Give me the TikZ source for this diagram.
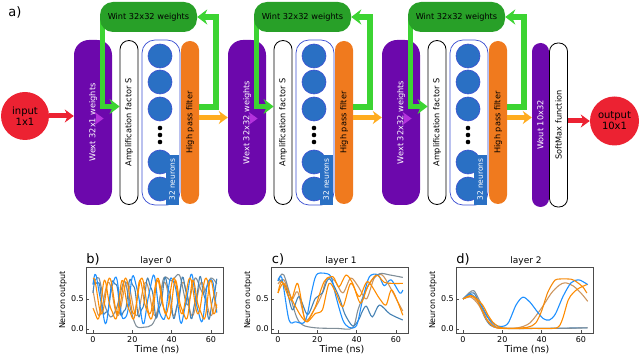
\documentclass[tikz,border=0pt]{standalone}
\usepackage{fontspec}
\setmainfont{DejaVu Sans}
\usetikzlibrary{arrows.meta}
\pgfdeclarelayer{front}
\pgfsetlayers{main,front}
\definecolor{wextc}{RGB}{108,8,172}
\definecolor{wintc}{RGB}{40,160,40}
\definecolor{fbc}{RGB}{60,212,50}
\definecolor{hpfc}{RGB}{240,122,30}
\definecolor{neuc}{RGB}{42,112,196}
\definecolor{ringc}{RGB}{60,80,210}
\definecolor{inc}{RGB}{236,34,50}
\definecolor{orac}{RGB}{255,172,30}
\definecolor{purc}{RGB}{180,50,220}
\definecolor{cblue}{RGB}{30,144,255}
\definecolor{csteel}{RGB}{70,130,180}
\definecolor{cgray}{RGB}{128,142,152}
\definecolor{corange}{RGB}{255,140,0}
\definecolor{ctan}{RGB}{205,150,95}
\tikzset{col/.style={inner sep=0pt,font=\fontsize{8.2}{9.6}\selectfont},
         wext/.style={col,fill=wextc,text=white,minimum width=38pt,minimum height=165pt,rounded corners=15pt},
         amp/.style={col,draw=black,line width=.8pt,fill=white,minimum width=18pt,minimum height=164pt,rounded corners=9pt},
         neur/.style={col,draw=ringc,line width=.7pt,fill=white,minimum width=38pt,minimum height=165pt,rounded corners=13pt},
         hpf/.style={col,fill=hpfc,minimum width=18pt,minimum height=163pt,rounded corners=9pt},
         wint/.style={col,fill=wintc,minimum width=97pt,minimum height=30pt,rounded corners=13pt},
         nlab/.style={col,fill=neuc,text=white,minimum width=13pt,minimum height=50pt,font=\fontsize{7.5}{9}\selectfont},
         neu/.style={fill=neuc,draw=ringc,line width=.6pt},
         io/.style={circle,fill=inc,inner sep=0pt,align=center,font=\fontsize{10}{11}\selectfont},
         fb/.style={draw=fbc,line width=5.5pt,-{Stealth[length=10pt,width=15pt]}},
         warr/.style={draw=purc,line width=5pt,-{Stealth[length=9pt,width=13pt]}},
         oarr/.style={draw=orac,line width=5pt,-{Stealth[length=9pt,width=13pt]}},
         rarr/.style={draw=inc,line width=5pt,-{Stealth[length=9pt,width=13pt]}},
         axbox/.style={draw=black!70,line width=.8pt},
         tick/.style={black!70,line width=.7pt},
         tkl/.style={inner sep=0pt,font=\fontsize{8}{9}\selectfont},
         albl/.style={inner sep=0pt,font=\fontsize{8}{9}\selectfont},
         ttl/.style={inner sep=0pt,font=\fontsize{9}{10}\selectfont},
         plbl/.style={inner sep=0pt,font=\fontsize{13}{14}\selectfont},
         cv/.style={line width=1.1pt,line join=round}}
\begin{document}
\begin{tikzpicture}[x=1pt,y=-1pt]
  \useasboundingbox (0,0) rectangle (640,355);
  \node[plbl] (pa) at (15,12) {a)};
  % three reservoir layers
  \foreach \i/\dx/\w in {1/0/32x1,2/154/32x32,3/308/32x32} {
    \node[wext] (wext\i) at ({93+\dx},122.5) {\rotatebox{90}{Wext \w\ weights}};
    \node[amp] (amp\i) at ({129+\dx},122.5) {\rotatebox{90}{Amplification factor S}};
    \node[neur] (neur\i) at ({161+\dx},122.5) {};
    \node[hpf] (hpf\i) at ({190+\dx},122.5) {\rotatebox{90}{High pass filter}};
    \foreach \dy in {-66.5,-40.5,-13.5,39.5,66.5}
      \draw[neu] ([shift={(-1,\dy)}]neur\i.center) circle (12pt);
    \foreach \dy in {5.5,12.5,19.5}
      \fill ([shift={(-1,\dy)}]neur\i.center) circle (2.3pt);
    \node[nlab,anchor=south east] (nl\i) at ([shift={(-1.5,-0.5)}]neur\i.south east) {\rotatebox{90}{32 neurons}};
    \begin{pgfonlayer}{front}
      \node[wint] (wint\i) at ({148.5+\dx},17) {Wint 32x32 weights};
    \end{pgfonlayer}
    \draw[warr] ([xshift=-16pt,yshift=4pt]wext\i.east) -- ([xshift=-16pt,yshift=4pt]wext\i.east -| amp\i.west);
    \draw[fb] ([yshift=15.5pt]hpf\i.east) -| ([xshift=19pt]wint\i.east) -- (wint\i.east);
    \draw[fb] ([xshift=2.5pt]wint\i.west) |- ([yshift=16pt]amp\i.west);
  }
  \node[wext,minimum width=17pt,minimum height=164pt,rounded corners=8.5pt] (wout) at (540.5,125) {\rotatebox{90}{Wout 10x32}};
  \node[amp,rounded corners=8.5pt] (smax) at (558.5,125) {\rotatebox{90}{SoftMax function}};
  \node[io,minimum size=48pt] (input) at (25,116) {input\\1x1};
  \node[io,minimum size=49pt] (output) at (614.5,121) {output\\10x1};
  \draw[rarr] (input.east) -- (input.east -| wext1.west);
  \draw[oarr] ([yshift=5pt]hpf1.east) -- ([yshift=5pt]hpf1.east -| wext2.west);
  \draw[oarr] ([yshift=5pt]hpf2.east) -- ([yshift=5pt]hpf2.east -| wext3.west);
  \draw[oarr] ([yshift=5pt]hpf3.east) -- ([yshift=5pt]hpf3.east -| wout.west);
  \draw[rarr] (output.west -| smax.east) -- (output.west);
  % neuron output panels
  \foreach \k/\p/\l in {0/b/0,1/c/1,2/d/2} {
    \begin{scope}[xshift={185pt*\k}]
      \draw[axbox] (86,267) rectangle (223,333);
      \foreach \t in {0,20,40,60} {
        \draw[tick] ({93+1.965*\t},333) -- ++(0,-3);
        \node[tkl] (xt\k-\t) at ({93+1.965*\t},340) {\t};
      }
      \draw[tick] (86,299) -- ++(3,0);
      \draw[tick] (86,329) -- ++(3,0);
      \node[tkl,anchor=east] (yh\k) at (84,299) {0.5};
      \node[tkl,anchor=east] (yl\k) at (84,329) {0.0};
      \node[albl,rotate=90] (yn\k) at (63,300) {Neuron output};
      \node[albl,font=\fontsize{9.5}{10}\selectfont] (xn\k) at (157,349.5) {Time (ns)};
      \node[ttl] (tt\k) at (156,261) {layer \l};
      \node[plbl] (pl\k) at (93,259) {\p)};
    \end{scope}
  }
  \begin{scope}[shift={(93,329)},x=1.965pt,y=60pt]
    \draw[cv,ctan] plot[domain=0:63,samples=130,smooth] (\x,{0.5+0.28*sin(38*\x+150)});
    \draw[cv,cgray] plot[smooth] coordinates {(0,.75)(3,.85)(6,.4)(9,.2)(12,.35)(16,.8)(19,.35)(22,.05)(26,.03)(30,.07)(33,.3)(36,.85)(40,.8)(44,.9)(48,.4)(52,.85)(56,.6)(60,.85)(63,.75)};
    \draw[cv,csteel] plot[domain=0:63,samples=130,smooth] (\x,{0.52+0.3*sin(41*\x+10)+0.06*sin(120*\x+30)});
    \draw[cv,cblue] plot[domain=0:63,samples=130,smooth] (\x,{0.5+0.37*sin(37*\x+40)+0.05*sin(95*\x)});
    \draw[cv,corange] plot[domain=0:63,samples=130,smooth] (\x,{0.55+0.3*sin(44*\x+80)});
    \draw[cv,corange] plot[domain=0:63,samples=130,smooth] (\x,{0.45+0.3*sin(40*\x+200)+0.08*sin(80*\x)});
  \end{scope}
  \begin{scope}[shift={(278,329)},x=1.965pt,y=60pt]
    \draw[cv,ctan] plot[smooth] coordinates {(0,.75)(3,.82)(7,.5)(10,.62)(14,.15)(18,.3)(22,.55)(25,.85)(29,.8)(33,.6)(37,.85)(41,.7)(45,.5)(49,.85)(53,.9)(57,.7)(61,.45)(63.5,.3)};
    \draw[cv,cgray] plot[smooth] coordinates {(0,.8)(3,.9)(9,.24)(12.4,.07)(19,.02)(30,.01)(38,.02)(41,.35)(46.5,.76)(51.6,.92)(57,.9)(63.5,.86)};
    \draw[cv,csteel] plot[smooth] coordinates {(0,.84)(4,.7)(7.3,.32)(10.7,.54)(15,.24)(19,.51)(22.6,.6)(26,.84)(31,.54)(34,.25)(38,.05)(41,.15)(43,.3)(45,.38)(48,.2)(51.6,.4)(57,.25)(63.5,.15)};
    \draw[cv,cblue] plot[smooth] coordinates {(0,.8)(2,.85)(5.6,.15)(9,.12)(13,.1)(15,.25)(17,.6)(19.5,.9)(23.5,.93)(27,.87)(29.5,.54)(33,.15)(36,.03)(40,.06)(43,.48)(46.5,.87)(51,.9)(54,.72)(57.5,.82)(62,.6)(63.5,.65)};
    \draw[cv,corange] plot[smooth] coordinates {(0,.6)(2,.79)(6.5,.48)(10,.76)(13.3,.2)(15,.13)(19,.37)(23.5,.79)(28,.87)(31,.7)(34.6,.9)(38,.76)(42,.43)(45.6,.7)(50,.9)(54,.78)(58.5,.76)(63.5,.76)};
    \draw[cv,corange] plot[smooth] coordinates {(0,.6)(3,.76)(8,.43)(12,.2)(15,.12)(19,.26)(22.6,.32)(26,.76)(29.5,.6)(33,.37)(37,.76)(41.4,.54)(45.6,.79)(51.6,.51)(55,.4)(58,.65)(63.5,.23)};
  \end{scope}
  \begin{scope}[shift={(463,329)},x=1.965pt,y=60pt]
    \draw[cv,csteel] plot[smooth] coordinates {(0,.5)(3,.58)(5.5,.6)(8,.45)(11,.2)(14,.06)(18,.02)(25,.01)(40,.01)(63,.02)};
    \draw[cv,cgray] plot[smooth] coordinates {(0,.5)(3,.6)(5.5,.64)(8,.5)(11,.3)(14,.12)(17,.03)(22,.01)(35,.01)(50,.01)(63.5,.02)};
    \draw[cv,ctan] plot[smooth] coordinates {(0,.5)(4,.53)(8,.4)(12,.15)(16,.03)(22,.01)(28,.02)(34,.1)(40,.35)(45,.6)(49,.73)(52,.77)(56,.72)(60,.6)(63.5,.46)};
    \draw[cv,cblue] plot[smooth] coordinates {(0,.5)(4,.58)(8,.45)(12,.22)(16,.08)(19.5,.04)(23,.1)(27,.4)(30.5,.53)(34,.45)(38,.28)(41,.17)(44,.15)(47,.25)(51,.55)(55,.77)(58.6,.82)(61,.79)(63.5,.74)};
    \draw[cv,corange!85!brown] plot[smooth] coordinates {(0,.5)(4,.55)(7,.48)(10,.3)(13,.12)(17,.02)(25,.01)(33,.03)(37,.1)(40,.3)(43,.6)(46,.78)(48,.83)(55,.83)(58,.78)(61,.7)(63,.6)};
    \draw[cv,corange] plot[smooth] coordinates {(0,.5)(4,.56)(7,.5)(10,.4)(12.6,.24)(15,.12)(18,.04)(22,.01)(35,.01)(46,.01)(49,.05)(51,.2)(53.5,.48)(56,.6)(59,.68)(63,.74)};
  \end{scope}
\end{tikzpicture}
\end{document}
